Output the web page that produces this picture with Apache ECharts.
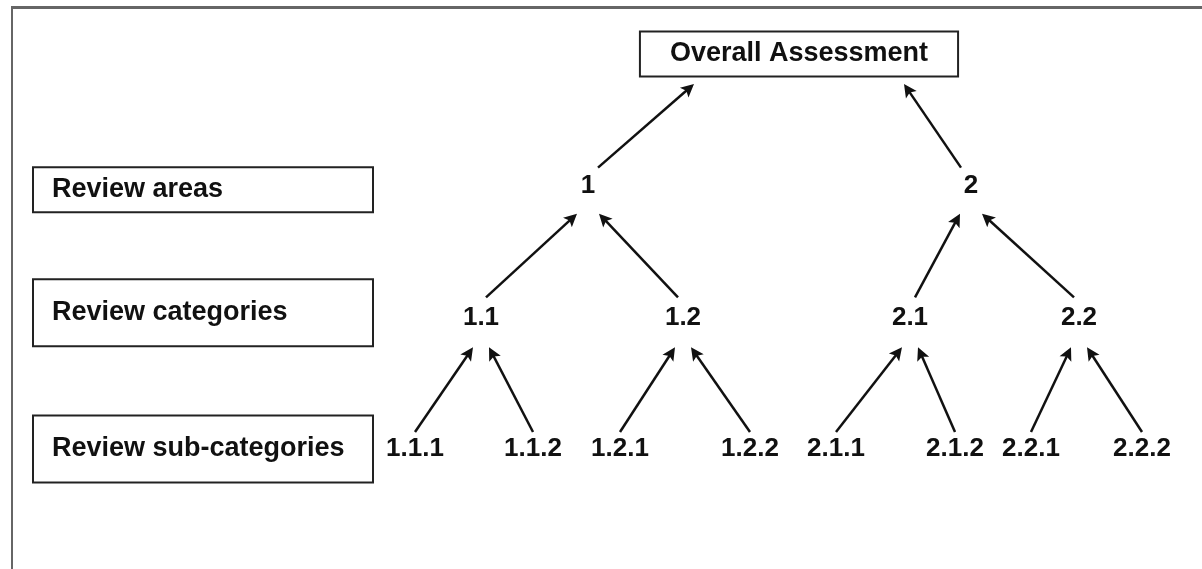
<!DOCTYPE html>
<html><head><meta charset="utf-8">
<script src="https://cdn.jsdelivr.net/npm/echarts@6/dist/echarts.min.js"></script>
<style>html,body{margin:0;padding:0;background:#fff}#c{width:1202px;height:569px}</style>
</head><body><div id="c"></div>
<script>
// ---- data (tree structure) ----
const nodeNames   = ['Overall Assessment','1','2','1.1','1.2','2.1','2.2','1.1.1','1.1.2','1.2.1','1.2.2','2.1.1','2.1.2','2.2.1','2.2.2'];
const nodeParents = [null,'Overall Assessment','Overall Assessment','1','1','2','2','1.1','1.1','1.2','1.2','2.1','2.1','2.2','2.2'];
const nodeLevels  = [0,1,1,2,2,2,2,3,3,3,3,3,3,3,3];
const nodeX       = [799,588,971,481,683,910,1079,415,533,620,750,836,955,1031,1142];
const rowLabels   = ['', 'Review areas', 'Review categories', 'Review sub-categories'];

// ---- layout constants (pixels) ----
const GRID_TOP = 54, GRID_BOTTOM = 120, H = 569;
const PX = (H - GRID_TOP - GRID_BOTTOM) / 3;      // pixels per level
const START_UP   = [0, 18, 20, 17];
const START_IN   = [0, 10, 5, 0];
const TIP_DOWN   = [0, 30, 28, 30];
const TIP_SPREAD = [0, 105, 11, 8];
const ARROW = 13;
const FONT = 'Liberation Sans';

const nodeData = nodeNames.map((n, i) => {
  const item = { value: [nodeX[i], nodeLevels[i]], name: n };
  if (nodeLevels[i] === 0) {
    item.label = { fontSize: 27, padding: [8, 29, 8, 29], borderColor: '#222', borderWidth: 2, backgroundColor: '#fff' };
  }
  return item;
});

const edgeData = [];
nodeNames.forEach((n, i) => {
  const p = nodeParents[i];
  if (!p) return;
  const j = nodeNames.indexOf(p);
  const L = nodeLevels[i];
  const side = nodeX[i] < nodeX[j] ? -1 : 1;
  const sx = nodeX[i] - side * START_IN[L];
  const sy = L * PX - START_UP[L];
  const tx = nodeX[j] + side * TIP_SPREAD[L];
  const ty = nodeLevels[j] * PX + TIP_DOWN[L];
  const dx = tx - sx, dy = ty - sy, len = Math.hypot(dx, dy);
  const ex = tx - dx / len * ARROW / 2, ey = ty - dy / len * ARROW / 2;
  edgeData.push({ coords: [[sx, sy / PX], [ex, ey / PX]] });
});

const boxStyle = (h) => ({
  fontFamily: FONT, fontSize: 27, fontWeight: 'bold', color: '#111',
  width: 302, height: h, padding: [0, 18, 0, 18], lineHeight: h,
  borderColor: '#222', borderWidth: 2, backgroundColor: '#fff', align: 'left', verticalAlign: 'middle'
});
const gapStyle = (h) => ({ fontSize: 1, height: h, lineHeight: h, color: 'rgba(0,0,0,0)' });

const chart = echarts.init(document.getElementById('c'), null, { renderer: 'canvas' });
chart.setOption({
  animation: false,
  backgroundColor: '#fff',
  grid: { left: 0, right: 0, top: GRID_TOP, bottom: GRID_BOTTOM, containLabel: false },
  xAxis: { type: 'value', min: 0, max: 1202, show: false },
  yAxis: [
    { type: 'category', data: rowLabels, inverse: true, boundaryGap: false, position: 'left',
      axisLine: { show: false }, axisTick: { show: false }, splitLine: { show: false },
      axisLabel: { inside: true, margin: 34, interval: 0,
        formatter: (v, i) => {
          if (!v) return '';
          if (i === 1) return '{g1| }\n{s|' + v + '}';
          if (i === 2) return '{t|' + v + '}\n{g2| }';
          return '{t|' + v + '}';
        },
        rich: { s: boxStyle(43), t: boxStyle(65), g1: gapStyle(8), g2: gapStyle(9) } } },
    { type: 'value', min: 0, max: 3, inverse: true, show: false }
  ],
  graphic: [
    { type: 'line', shape: { x1: 11, y1: 7.5, x2: 1202, y2: 7.5 }, style: { stroke: '#666', lineWidth: 3 }, silent: true },
    { type: 'line', shape: { x1: 12, y1: 7, x2: 12, y2: 569 }, style: { stroke: '#666', lineWidth: 2 }, silent: true }
  ],
  series: [
    { type: 'lines', coordinateSystem: 'cartesian2d', xAxisIndex: 0, yAxisIndex: 1,
      symbol: ['none', 'path://M5,0L10,14L5,11L0,14Z'], symbolSize: ARROW,
      lineStyle: { color: '#111', width: 2.5, opacity: 1 }, silent: true,
      data: edgeData },
    { type: 'scatter', xAxisIndex: 0, yAxisIndex: 1, symbol: 'circle', symbolSize: 0,
      itemStyle: { color: '#fff', opacity: 1 }, silent: true,
      label: { show: true, position: 'inside', formatter: '{b}', fontFamily: FONT, fontSize: 26, fontWeight: 'bold', color: '#111', opacity: 1, textBorderWidth: 0 },
      data: nodeData }
  ]
});
</script></body></html>
